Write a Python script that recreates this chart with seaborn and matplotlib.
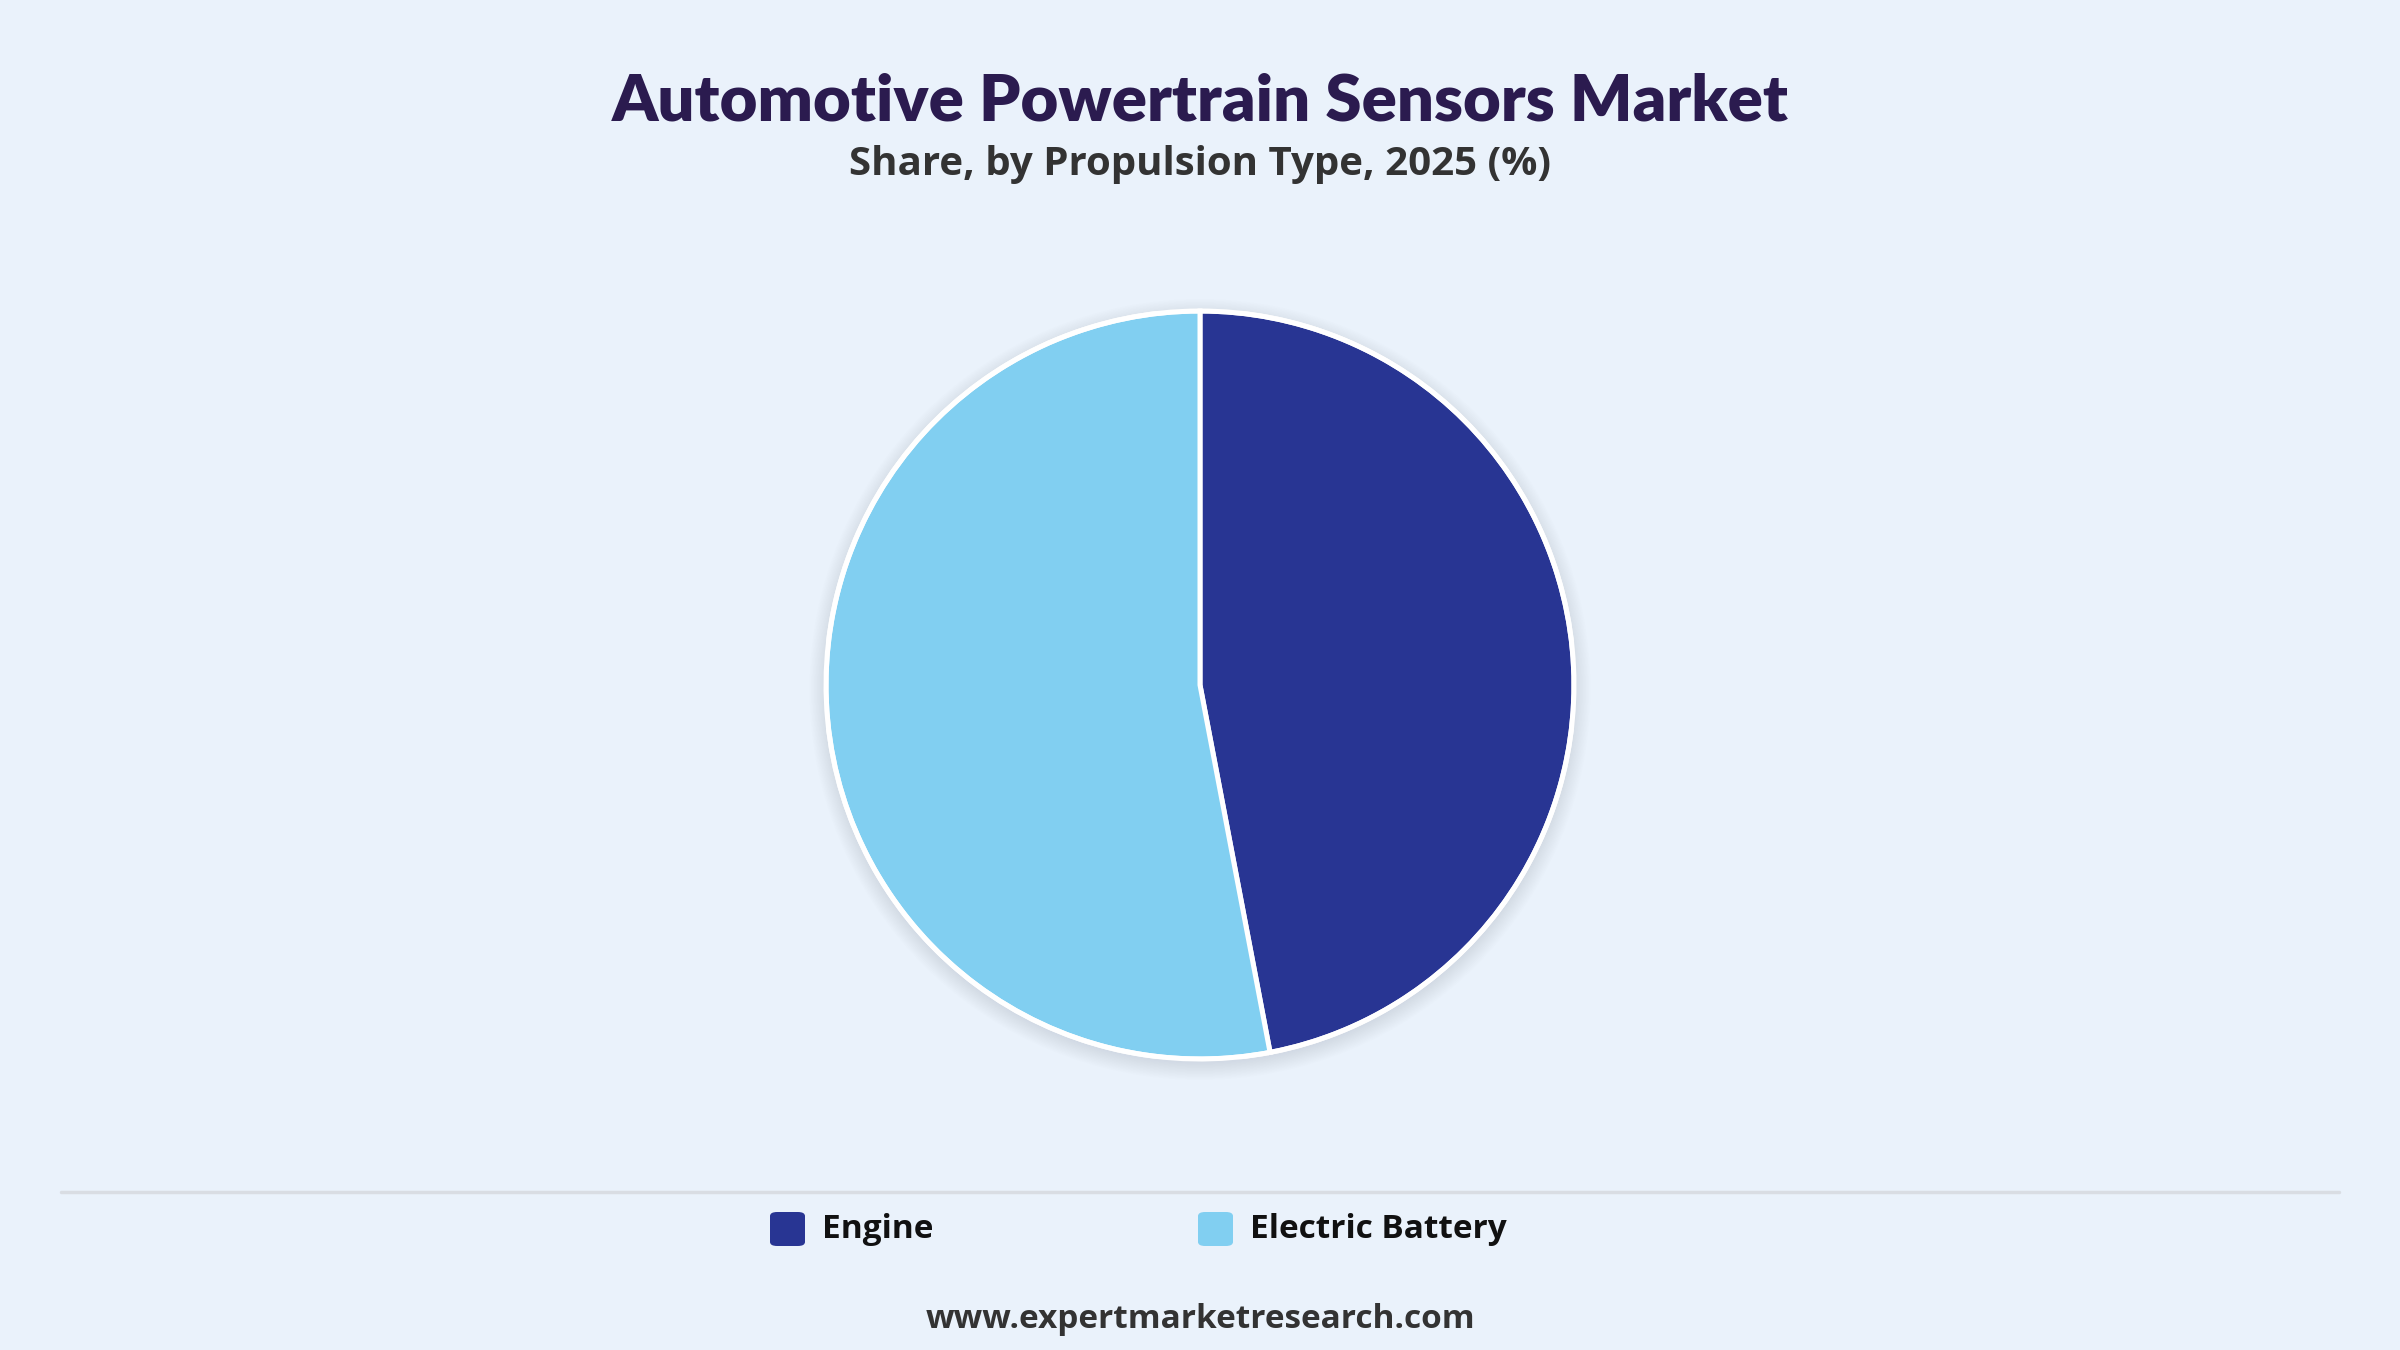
import matplotlib
matplotlib.use('Agg')
import matplotlib.pyplot as plt
import seaborn as sns
from matplotlib.patches import Circle, FancyBboxPatch
from matplotlib.lines import Line2D

# Data
categories = ['Engine', 'Electric Battery']
shares = [47, 53]
colors = ['#283593', '#81CFF1']

BG = '#EAF2FB'

sns.set_theme(style='white')
plt.rcParams['font.family'] = ['Open Sans', 'DejaVu Sans']

fig = plt.figure(figsize=(24, 13.5), dpi=100, facecolor=BG)

# Pie axes: center (1200, 685) px, radius ~374 px
r_px = 374
cx, cy = 1200, 1350 - 685
ax = fig.add_axes([(cx - r_px) / 2400, (cy - r_px) / 1350, 2 * r_px / 2400, 2 * r_px / 1350])
ax.set_facecolor('none')

# soft drop shadow
for i in range(12):
    ax.add_patch(Circle((0.0, -0.012), 1.0 + 0.004 * i, color='#9aa4b5',
                        alpha=0.018, lw=0, zorder=0, clip_on=False))

ax.pie(shares, colors=colors, startangle=90, counterclock=False,
       wedgeprops=dict(edgecolor='white', linewidth=3.6), radius=1.0)
ax.add_patch(Circle((0, 0), 1.0, fill=False, edgecolor='white', lw=3.6, zorder=5))
ax.set_xlim(-1, 1)
ax.set_ylim(-1, 1)
ax.set_aspect('equal')
ax.axis('off')

# Titles
fig.text(0.5, 1 - 102 / 1350, 'Automotive Powertrain Sensors Market', ha='center', va='center',
         fontsize=47, fontweight='heavy', color='#2B1B4F', family=['Lato', 'DejaVu Sans'])
fig.text(0.5, 1 - 165 / 1350, 'Share, by Propulsion Type, 2025 (%)', ha='center', va='center',
         fontsize=29, fontweight='bold', color='#333333')

# separator
fig.add_artist(Line2D([61 / 2400, 2339 / 2400], [1 - 1192 / 1350] * 2, color='#D9DDE3', lw=2.5))

# legend
leg_y = 1 - 1229 / 1350
for name, col, x0 in zip(categories, colors, [770, 1198]):
    fig.add_artist(FancyBboxPatch((x0 / 2400, leg_y - 17 / 1350), 35 / 2400, 34 / 1350,
                                  boxstyle='round,pad=0,rounding_size=0.003',
                                  transform=fig.transFigure, facecolor=col, edgecolor='none'))
    fig.text((x0 + 52) / 2400, leg_y, name, ha='left', va='center',
             fontsize=24, fontweight='bold', color='#111111')

fig.text(0.5, 1 - 1319 / 1350, 'www.expertmarketresearch.com', ha='center', va='center',
         fontsize=24, fontweight='bold', color='#333333')

fig.savefig('out.png', dpi=100, facecolor=BG)
